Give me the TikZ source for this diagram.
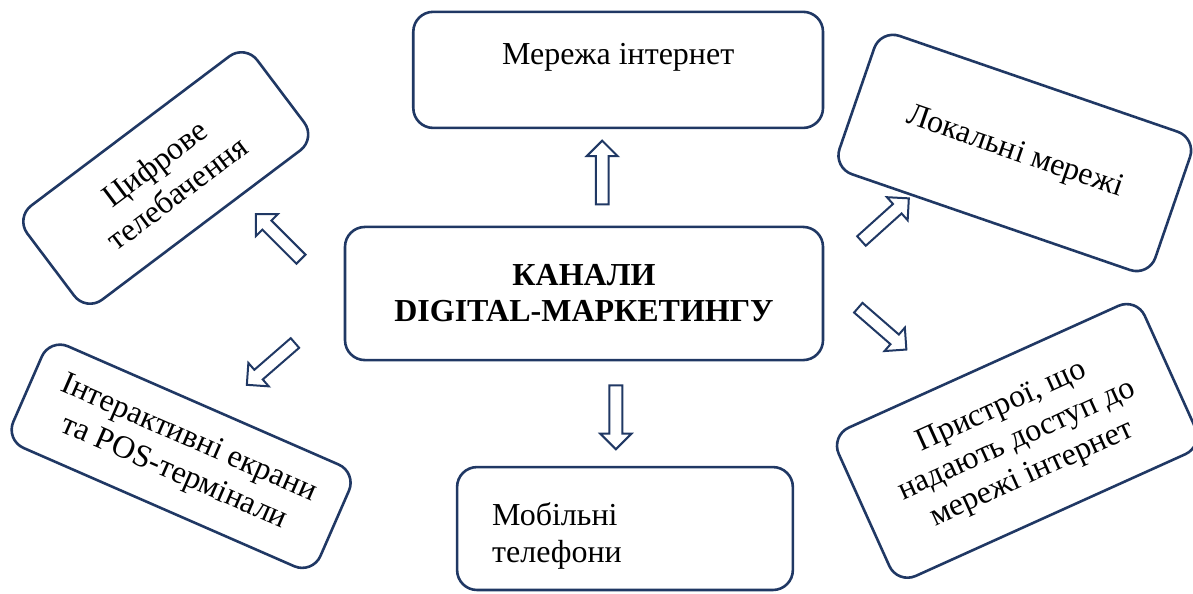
\documentclass[tikz,border=0pt]{standalone}
\usepackage{fontspec}
\setmainfont{Liberation Serif}
\usetikzlibrary{positioning,shapes.arrows}
\definecolor{navy}{HTML}{203864}
\begin{document}
\begin{tikzpicture}[
  box/.style={rectangle, draw=navy, line width=1.3pt, rounded corners=0.35cm, align=center, inner sep=0pt, font=\fontsize{16}{18.5}\selectfont},
  hollow/.style={single arrow, draw=navy, line width=1pt, fill=white, inner xsep=0pt, inner ysep=0.095cm, minimum height=1.12cm, single arrow head extend=0.16cm},
  on grid
]
\useasboundingbox (-10.263,-5.263) rectangle (10.702,5.158);

% Centre
\node[box, minimum width=8.4cm, minimum height=2.34cm, font=\bfseries\fontsize{16}{18}\selectfont] (channels) at (0,0) {КАНАЛИ\\DIGITAL-МАРКЕТИНГУ};

% Upper and lower boxes
\node[box, above right=3.93cm and 0.60cm of channels, minimum width=7.2cm, minimum height=2.04cm, text height=11pt, text depth=16pt] (internet) {Мережа інтернет};
\node[box, below right=4.13cm and 0.72cm of channels, minimum width=5.9cm, minimum height=2.16cm, text width=4.67cm, align=left] (mobile) {\rule{0pt}{19pt}Мобільні\\телефони};

% Left side
\node[box, rotate=37, above left=2.03cm and 7.35cm of channels, minimum width=5.06cm, minimum height=2.07cm] (tv) {Цифрове\\телебачення};
\node[box, rotate=-23.6, below left=2.86cm and 7.08cm of channels, minimum width=5.89cm, minimum height=1.95cm] (pos) {Інтерактивні екрани\\та POS-термінали};

% Right side
\node[box, rotate=-19, above right=2.47cm and 7.57cm of channels, minimum width=5.87cm, minimum height=2.57cm] (lan) {Локальні мережі};
\node[box, rotate=24.3, below right=2.59cm and 7.61cm of channels, minimum width=5.9cm, minimum height=2.86cm] (devices) {Пристрої, що\\надають доступ до\\мережі інтернет};

% Arrows
\node[hollow, rotate=90, above right=2.07cm and 0.32cm of channels] (toint) {};
\node[hollow, rotate=-90, below right=2.12cm and 0.56cm of channels] (tomob) {};
\node[hollow, rotate=135, above left=0.96cm and 5.33cm of channels] (totv) {};
\node[hollow, rotate=-139, below left=1.20cm and 5.46cm of channels] (topos) {};
\node[hollow, rotate=42, above right=1.26cm and 5.25cm of channels] (tolan) {};
\node[hollow, rotate=-41, below right=0.58cm and 5.20cm of channels] (todev) {};
\end{tikzpicture}
\end{document}
